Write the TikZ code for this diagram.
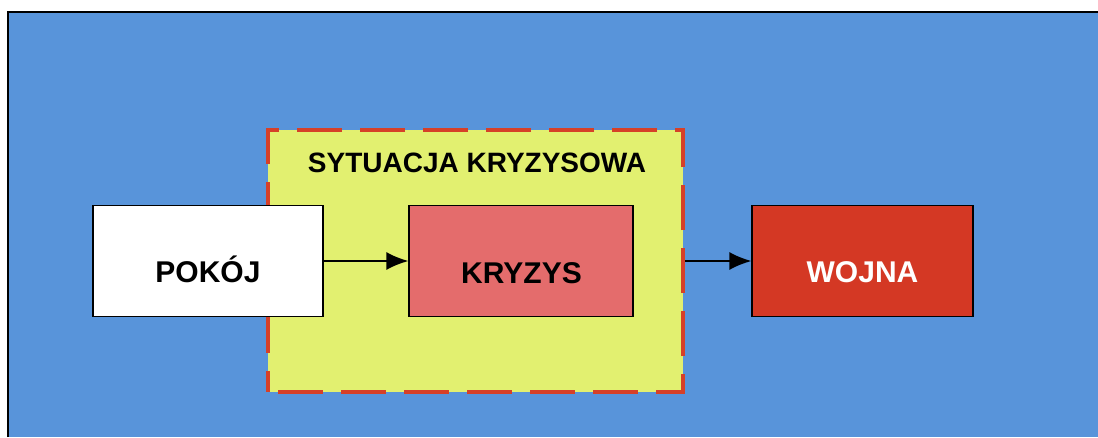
\documentclass[tikz,border=0pt]{standalone}
\usepackage{fontspec}
\setmainfont{Liberation Sans}
\usetikzlibrary{arrows.meta}
\definecolor{bgblue}{RGB}{88,148,218}
\definecolor{sityellow}{RGB}{226,240,112}
\definecolor{dashred}{RGB}{214,64,40}
\definecolor{crisispink}{RGB}{228,108,108}
\definecolor{warred}{RGB}{212,56,36}
\tikzset{
  box/.style={draw=black, line width=1.3pt, minimum width=#1, minimum height=111pt, inner sep=0pt},
  lbl/.style={font=\fontsize{30}{36}\selectfont\bfseries, anchor=base},
  conn/.style={-{Latex[length=22pt,width=18pt]}, line width=1.6pt, black},
}
\begin{document}
\begin{tikzpicture}[x=1pt,y=-1pt]
\useasboundingbox (0,0) rectangle (1098,437);
\fill[white] (0,0) rectangle (1098,437);
\fill[bgblue] (8,12) rectangle (1098,437);
\draw[black, line width=2pt] (8,437) -- (8,12) -- (1098,12);
% situation box
\node[fill=sityellow, draw=dashred, line width=4pt, dash pattern=on 45pt off 18pt, dash phase=-10pt,
      minimum width=415pt, minimum height=262pt, inner sep=0pt] (sit) at (475.5,261) {};
\node[font=\fontsize{28}{34}\selectfont\bfseries, anchor=base] (sittitle) at (477,172) {SYTUACJA KRYZYSOWA};
% boxes
\node[box=230pt, fill=white] (pokoj) at (208,261) {};
\node[lbl] (pokojt) at (208,282) {POKÓJ};
\node[box=224pt, fill=crisispink] (kryzys) at (521,261) {};
\node[lbl] (kryzyst) at (521.5,283) {KRYZYS};
\node[box=221pt, fill=warred] (wojna) at (862.5,261) {};
\node[lbl, text=white] (wojnat) at (862.5,282) {WOJNA};
% connectors
\draw[conn] (pokoj.east) -- (kryzys.west);
\draw[conn] (sit.east) -- (wojna.west);
\end{tikzpicture}
\end{document}
